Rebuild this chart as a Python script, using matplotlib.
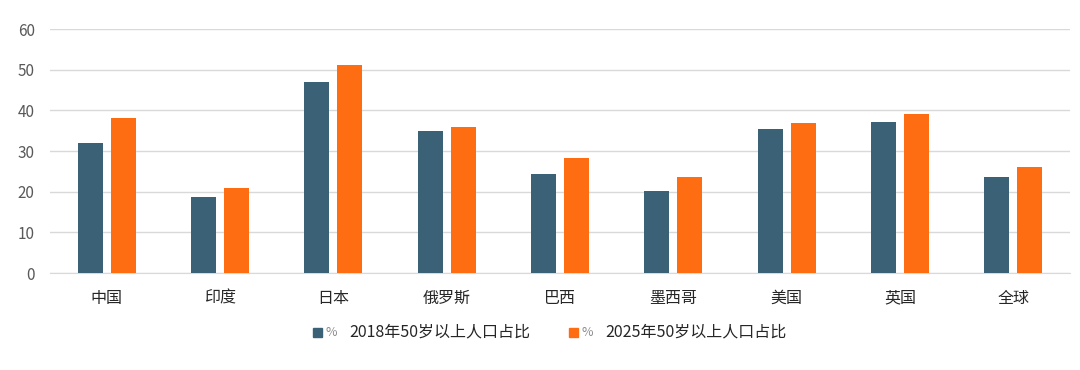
import numpy as np
import matplotlib
matplotlib.use("Agg")
import matplotlib.pyplot as plt
from matplotlib.patches import Rectangle

plt.rcParams['font.family'] = ['Noto Sans CJK SC', 'DejaVu Sans']

# data
countries = ["中国", "印度", "日本", "俄罗斯", "巴西", "墨西哥", "美国", "英国", "全球"]
pct_2018 = [32.0, 18.7, 46.9, 35.0, 24.3, 20.1, 35.4, 37.2, 23.5]
pct_2025 = [38.0, 21.0, 51.1, 36.0, 28.2, 23.5, 37.0, 39.2, 26.0]
label_2018 = "2018年50岁以上人口占比"
label_2025 = "2025年50岁以上人口占比"

blue = "#3B6177"
orange = "#FF6D12"

fig = plt.figure(figsize=(10.8, 3.7), dpi=100)
ax = fig.add_axes([50 / 1080, 97 / 370, 1020 / 1080, 244 / 370])

x = np.arange(len(countries))
w = 0.22
ax.bar(x - 0.145, pct_2018, w, color=blue, zorder=3)
ax.bar(x + 0.145, pct_2025, w, color=orange, zorder=3)

ax.set_xlim(-0.5, len(countries) - 0.5)
ax.set_ylim(0, 60)
ax.set_yticks(range(0, 61, 10))
ax.grid(axis='y', color='#D9D9D9', linewidth=1, zorder=0)
for s in ['top', 'right', 'left']:
    ax.spines[s].set_visible(False)
ax.spines['bottom'].set_color('#D9D9D9')
ax.tick_params(axis='both', length=0, colors='#595959')
ax.tick_params(axis='y', pad=11, labelsize=11)
ax.tick_params(axis='x', pad=12, labelsize=11.5, labelcolor='#262626')
ax.set_xticks(x)
ax.set_xticklabels(countries)

# legend drawn by hand: square, gray %, label
for sx, col, lab in [(313, blue, label_2018), (569, orange, label_2025)]:
    fig.patches.append(Rectangle((sx / 1080, (370 - 337) / 370), 9 / 1080, 9 / 370,
                                 transform=fig.transFigure, color=col))
    fig.text((sx + 13) / 1080, (370 - 332) / 370, "%", fontsize=9, color='#8C8C8C', va='center')
    fig.text((sx + 36) / 1080, (370 - 332) / 370, lab, fontsize=11.5, color='#262626', va='center')

fig.savefig("out.png", dpi=100, facecolor='white')
